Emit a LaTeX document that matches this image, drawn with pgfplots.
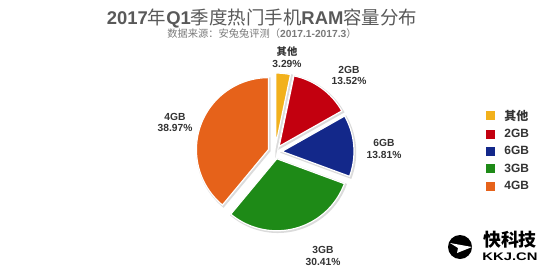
\documentclass[border=0pt]{standalone}
\usepackage{pgfplots}
\pgfplotsset{compat=1.18}
\usepgfplotslibrary{polar}
\usepackage{fontspec}
\setmainfont{Liberation Sans}
\newfontfamily\cjk{Noto Sans CJK SC}
\definecolor{cA}{HTML}{F2B11C}
\definecolor{cB}{HTML}{C3000F}
\definecolor{cC}{HTML}{13288A}
\definecolor{cD}{HTML}{1E8A17}
\definecolor{cE}{HTML}{E6621A}
\definecolor{titlegray}{HTML}{595959}
\definecolor{subgray}{HTML}{7A7A7A}
\definecolor{labgray}{HTML}{333333}
\begin{document}
\begin{tikzpicture}[x=1bp,y=1bp]
\path[use as bounding box] (0,0) rectangle (550,272);
% shares (percent): other, 2GB, 6GB, 3GB, 4GB
\def\pA{3.29}\def\pB{13.52}\def\pC{13.81}\def\pD{30.41}\def\pE{38.97}
\def\R{72}\def\off{7}
\pgfmathsetmacro\sA{90}
\pgfmathsetmacro\eA{\sA-3.6*\pA}
\pgfmathsetmacro\eB{\eA-3.6*\pB}
\pgfmathsetmacro\eC{\eB-3.6*\pC}
\pgfmathsetmacro\eD{\eC-3.6*\pD}
\pgfmathsetmacro\eE{\eD-3.6*\pE}
\pgfmathsetmacro\xA{\off*cos((\sA+\eA)/2)}\pgfmathsetmacro\yA{\off*sin((\sA+\eA)/2)}
\pgfmathsetmacro\xB{\off*cos((\eA+\eB)/2)}\pgfmathsetmacro\yB{\off*sin((\eA+\eB)/2)}
\pgfmathsetmacro\xC{\off*cos((\eB+\eC)/2)}\pgfmathsetmacro\yC{\off*sin((\eB+\eC)/2)}
\pgfmathsetmacro\xD{\off*cos((\eC+\eD)/2)}\pgfmathsetmacro\yD{\off*sin((\eC+\eD)/2)}
\pgfmathsetmacro\xE{\off*cos((\eD+\eE)/2)}\pgfmathsetmacro\yE{\off*sin((\eD+\eE)/2)}
\begin{polaraxis}[at={(275bp,120bp)}, anchor=center, scale only axis,
  width=144bp, height=144bp, ymin=0, ymax=72, hide axis, clip=false,
  legend style={at={(1.945,0.51)}, anchor=west, draw=none, fill=none,
    font=\fontsize{12}{13}\selectfont\bfseries, text=labgray, row sep=3.6bp,
    cells={anchor=west}},
  legend image code/.code={\fill[#1,draw=none] (0bp,-4.5bp) rectangle (9bp,4.5bp); \path (16bp,0bp);}]
% shadows
\addplot[forget plot, fill=black!14, draw=black!14, line width=2.5bp, domain=\eA:\sA, samples=20, xshift=\xA bp+1bp, yshift=\yA bp-1bp] {\R} -- (axis cs:0,0) -- cycle;
\addplot[forget plot, fill=black!14, draw=black!14, line width=2.5bp, domain=\eB:\eA, samples=40, xshift=\xB bp+1bp, yshift=\yB bp-1bp] {\R} -- (axis cs:0,0) -- cycle;
\addplot[forget plot, fill=black!14, draw=black!14, line width=2.5bp, domain=\eC:\eB, samples=40, xshift=\xC bp+1bp, yshift=\yC bp-1bp] {\R} -- (axis cs:0,0) -- cycle;
\addplot[forget plot, fill=black!14, draw=black!14, line width=2.5bp, domain=\eD:\eC, samples=60, xshift=\xD bp+1bp, yshift=\yD bp-1bp] {\R} -- (axis cs:0,0) -- cycle;
\addplot[forget plot, fill=black!14, draw=black!14, line width=2.5bp, domain=\eE:\eD, samples=70, xshift=\xE bp+1bp, yshift=\yE bp-1bp] {\R} -- (axis cs:0,0) -- cycle;
% slices
\addplot[forget plot, fill=cA, draw=white, line width=1.2bp, domain=\eA:\sA, samples=20, xshift=\xA bp, yshift=\yA bp] {\R} -- (axis cs:0,0) -- cycle;
\addplot[forget plot, fill=cB, draw=white, line width=1.2bp, domain=\eB:\eA, samples=40, xshift=\xB bp, yshift=\yB bp] {\R} -- (axis cs:0,0) -- cycle;
\addplot[forget plot, fill=cC, draw=white, line width=1.2bp, domain=\eC:\eB, samples=40, xshift=\xC bp, yshift=\yC bp] {\R} -- (axis cs:0,0) -- cycle;
\addplot[forget plot, fill=cD, draw=white, line width=1.2bp, domain=\eD:\eC, samples=60, xshift=\xD bp, yshift=\yD bp] {\R} -- (axis cs:0,0) -- cycle;
\addplot[forget plot, fill=cE, draw=white, line width=1.2bp, domain=\eE:\eD, samples=70, xshift=\xE bp, yshift=\yE bp] {\R} -- (axis cs:0,0) -- cycle;
\addlegendimage{fill=cA}\addlegendentry{\cjk 其他}
\addlegendimage{fill=cB}\addlegendentry{2GB}
\addlegendimage{fill=cC}\addlegendentry{6GB}
\addlegendimage{fill=cD}\addlegendentry{3GB}
\addlegendimage{fill=cE}\addlegendentry{4GB}
\end{polaraxis}
% slice labels
\begin{scope}[every node/.style={align=center, text=labgray, font=\fontsize{10.3}{11.5}\selectfont\bfseries}]
\node at (287,215) {{\cjk 其他}\\3.29\%};
\node at (349,196.5) {2GB\\13.52\%};
\node at (384,123) {6GB\\13.81\%};
\node at (323,16) {3GB\\30.41\%};
\node at (175,149.5) {4GB\\38.97\%};
\end{scope}
% titles
\node[text=titlegray, font=\fontsize{18.5}{20}\selectfont\bfseries] at (262,253)
  {2017{\cjk\mdseries 年}Q1{\cjk\mdseries 季度热门手机}RAM{\cjk\mdseries 容量分布}};
\node[text=subgray, font=\fontsize{10.3}{12}\selectfont] at (262,238)
  {{\cjk 数据来源：安兔兔评测（}\textbf{2017.1-2017.3}{\cjk ）}};
% watermark logo
\fill[black] (460,25) circle (12);
\fill[white] (450,29) -- (472,25) -- (457,19) -- (458,24) -- cycle;
\node[font=\cjk\bfseries\fontsize{18}{18}\selectfont] at (510,32) {快科技};
\node[font=\bfseries\fontsize{11}{11}\selectfont, xscale=1.35] at (510,15) {KKJ.CN};
\end{tikzpicture}
\end{document}
